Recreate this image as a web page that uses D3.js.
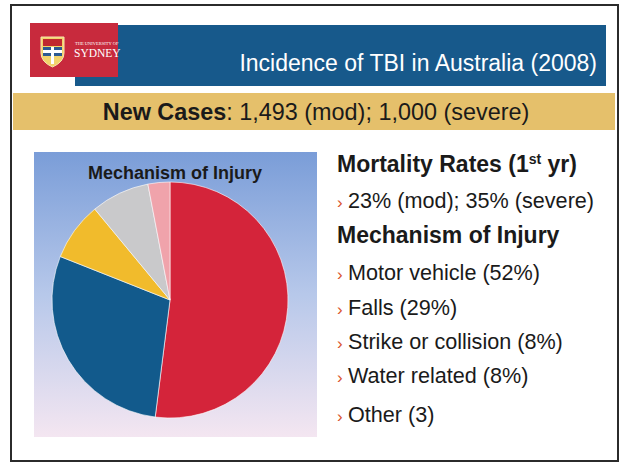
<!DOCTYPE html>
<html>
<head>
<meta charset="utf-8">
<script src="https://cdn.jsdelivr.net/npm/d3@7"></script>
<style>
  body { margin: 0; background: #fff; }
  svg { display: block; font-family: "Liberation Sans", Arial, sans-serif; }
</style>
</head>
<body>
<svg width="622" height="463"></svg>
<script>
// data
var categories = ["Motor vehicle", "Falls", "Strike or collision", "Water related", "Other"];
var shares = [52, 29, 8, 8, 3];
var sliceColors = ["#d4243a", "#125a8c", "#f1bb2c", "#c9c9cb", "#f0a3ab"];
var bulletLabels = ["Motor vehicle (52%)", "Falls (29%)", "Strike or collision (8%)", "Water related (8%)", "Other (3)"];
var mortality = "23% (mod); 35% (severe)";

var svg = d3.select("svg");

// slide frame + header
svg.append("rect").attr("x", 11).attr("y", 5).attr("width", 607).attr("height", 456)
  .attr("fill", "#fff").attr("stroke", "#2b2b2b").attr("stroke-width", 2);

svg.append("rect").attr("x", 75).attr("y", 25).attr("width", 531).attr("height", 61)
  .attr("fill", "#17598b");

svg.append("text")
  .attr("x", 597).attr("y", 71)
  .attr("text-anchor", "end")
  .attr("fill", "#fff")
  .style("font-size", "23px")
  .text("Incidence of TBI in Australia (2008)");

// logo block
var logo = svg.append("g");
logo.append("rect").attr("x", 30).attr("y", 23).attr("width", 88).attr("height", 54)
  .attr("fill", "#c82a3d");
logo.append("path")
  .attr("d", "M41,37 L64,37 L64,53 Q64,62 52.5,67 Q41,62 41,53 Z")
  .attr("fill", "#f2d36b").attr("stroke", "#f7e7b0").attr("stroke-width", 1);
logo.append("rect").attr("x", 43).attr("y", 39).attr("width", 19).attr("height", 7).attr("fill", "#c0282f");
logo.append("rect").attr("x", 43).attr("y", 47).attr("width", 19).attr("height", 9).attr("fill", "#2c5a93");
logo.append("rect").attr("x", 51).attr("y", 47).attr("width", 3).attr("height", 17).attr("fill", "#fff");
logo.append("rect").attr("x", 43).attr("y", 50).attr("width", 19).attr("height", 3).attr("fill", "#fff");
logo.append("text").attr("x", 75).attr("y", 45)
  .attr("fill", "#fff").style("font-family", "'Liberation Serif', serif").style("font-size", "4.5px")
  .text("THE UNIVERSITY OF");
logo.append("text").attr("x", 74).attr("y", 57)
  .attr("fill", "#fff").style("font-family", "'Liberation Serif', serif").style("font-size", "11.5px")
  .text("SYDNEY");

// gold band
svg.append("rect").attr("x", 13).attr("y", 93).attr("width", 602).attr("height", 37)
  .attr("fill", "#e5c06b");

var nc = svg.append("text")
  .attr("x", 316).attr("y", 120)
  .attr("text-anchor", "middle")
  .attr("fill", "#1a1a1a")
  .style("font-size", "23.4px");
nc.append("tspan").style("font-weight", "bold").text("New Cases");
nc.append("tspan").text(": 1,493 (mod); 1,000 (severe)");

// chart panel with gradient
var defs = svg.append("defs");
var grad = defs.append("linearGradient").attr("id", "panelGrad")
  .attr("x1", 0).attr("y1", 0).attr("x2", 0).attr("y2", 1);
grad.append("stop").attr("offset", "0%").attr("stop-color", "#7a9dd8");
grad.append("stop").attr("offset", "50%").attr("stop-color", "#b7c8ea");
grad.append("stop").attr("offset", "100%").attr("stop-color", "#f4e6f1");

svg.append("rect").attr("x", 34).attr("y", 152).attr("width", 283).attr("height", 285)
  .attr("fill", "url(#panelGrad)");

svg.append("text")
  .attr("x", 175).attr("y", 179)
  .attr("text-anchor", "middle")
  .attr("fill", "#1a1a1a")
  .style("font-size", "18px").style("font-weight", "bold")
  .text("Mechanism of Injury");

var pie = d3.pie().sort(null).value(function(d) { return d; });
var arc = d3.arc().innerRadius(0).outerRadius(118);
var color = d3.scaleOrdinal().domain(categories).range(sliceColors);

svg.append("g")
  .attr("transform", "translate(170,300)")
  .selectAll("path")
  .data(pie(shares))
  .enter().append("path")
  .attr("d", arc)
  .attr("fill", function(d, i) { return color(categories[i]); })
  .attr("stroke", "#fff").attr("stroke-width", 0.6);

// right hand text
var tx = 337;
var head = svg.append("text").attr("x", tx).attr("y", 172)
  .attr("fill", "#1a1a1a").style("font-size", "23px").style("font-weight", "bold");
head.append("tspan").text("Mortality Rates (1");
head.append("tspan").attr("dy", -8).style("font-size", "14px").text("st");
head.append("tspan").attr("dy", 8).text(" yr)");

function bullet(y, label) {
  var t = svg.append("text").attr("x", tx).attr("y", y)
    .attr("fill", "#1a1a1a").style("font-size", "21.6px");
  t.append("tspan").attr("fill", "#d9532b").style("font-size", "17px").text("\u203A");
  t.append("tspan").attr("x", tx + 11).text(label);
}

bullet(208, mortality);

svg.append("text").attr("x", tx).attr("y", 243)
  .attr("fill", "#1a1a1a").style("font-size", "23px").style("font-weight", "bold")
  .text("Mechanism of Injury");

var bulletY = [280, 315, 349, 383, 422];
bulletLabels.forEach(function(l, i) { bullet(bulletY[i], l); });
</script>
</body>
</html>
